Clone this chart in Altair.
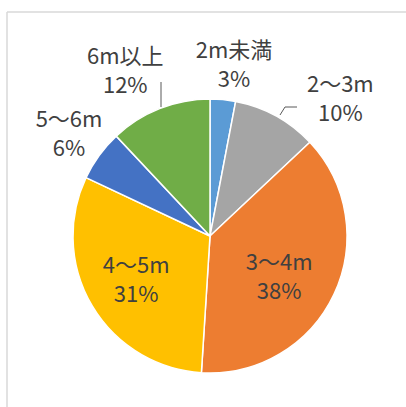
import altair as alt
import pandas as pd

# ---- data ----
categories = ["2m未満", "2～3m", "3～4m", "4～5m", "5～6m", "6m以上"]
values = [3, 10, 38, 31, 6, 12]
colors = ["#5B9BD5", "#A5A5A5", "#ED7D31", "#FFC000", "#4472C4", "#70AD47"]

# ---- layout (label placement around the mid-angle of each slice) ----
label_radius = [170, 175, 82, 87, 173, 184]
label_dx = [8, 46, -5, 1, -1, -17]
label_dy = [-16, 2, -8, -14, -14, -8]

CX, CY, R = 210, 236, 137
FONT = "Noto Sans CJK JP"
TEXT_COLOR = "#404040"

df = pd.DataFrame({"cat": categories, "value": values, "idx": list(range(len(values)))})

theta_scale = alt.Scale(domain=[0, 100])

base = alt.Chart(df)

arcs = base.mark_arc(radius=R, stroke="white", strokeWidth=1.5).encode(
    theta=alt.Theta("value:Q", stack=True, scale=theta_scale),
    color=alt.Color("cat:N", scale=alt.Scale(domain=categories, range=colors), legend=None),
    order=alt.Order("idx:Q"),
    x=alt.value(CX),
    y=alt.value(CY),
)

labels = []
for i in range(len(categories)):
    t = (
        base.transform_window(cum="sum(value)", sort=[alt.SortField("idx")], frame=[None, 0])
        .transform_calculate(mid="datum.cum - datum.value / 2",
                             label="datum.cat + '\\n' + datum.value + '%'")
        .transform_filter(f"datum.idx == {i}")
        .mark_text(radius=label_radius[i], dx=label_dx[i], dy=label_dy[i],
                   fontSize=22, font=FONT, color=TEXT_COLOR, lineBreak="\n",
                   lineHeight=29, align="center", baseline="middle")
        .encode(theta=alt.Theta("mid:Q", scale=theta_scale), text="label:N",
                x=alt.value(CX), y=alt.value(CY))
    )
    labels.append(t)

one = alt.Chart(pd.DataFrame({"a": [0]}))
frame_top = one.mark_rule(color="#d9d9d9", strokeWidth=1.5).encode(
    x=alt.value(7), x2=alt.value(406), y=alt.value(12))
frame_left = one.mark_rule(color="#d9d9d9", strokeWidth=1.5).encode(
    x=alt.value(7), y=alt.value(12), y2=alt.value(407))

leader1 = one.mark_rule(color="#595959", strokeWidth=1).encode(
    x=alt.value(161), y=alt.value(82), y2=alt.value(107))
leader2a = one.mark_rule(color="#595959", strokeWidth=1).encode(
    x=alt.value(280), x2=alt.value(285), y=alt.value(115), y2=alt.value(107))
leader2b = one.mark_rule(color="#595959", strokeWidth=1).encode(
    x=alt.value(285), x2=alt.value(297), y=alt.value(107))

chart = alt.layer(frame_top, frame_left, arcs, leader1, leader2a, leader2b, *labels).properties(
    width=406, height=407, padding=0,
    autosize=alt.AutoSizeParams(type="none"),
    background="white",
).configure_view(strokeWidth=0)

chart.save("out.html", embed_options={"renderer": "svg", "actions": False})
